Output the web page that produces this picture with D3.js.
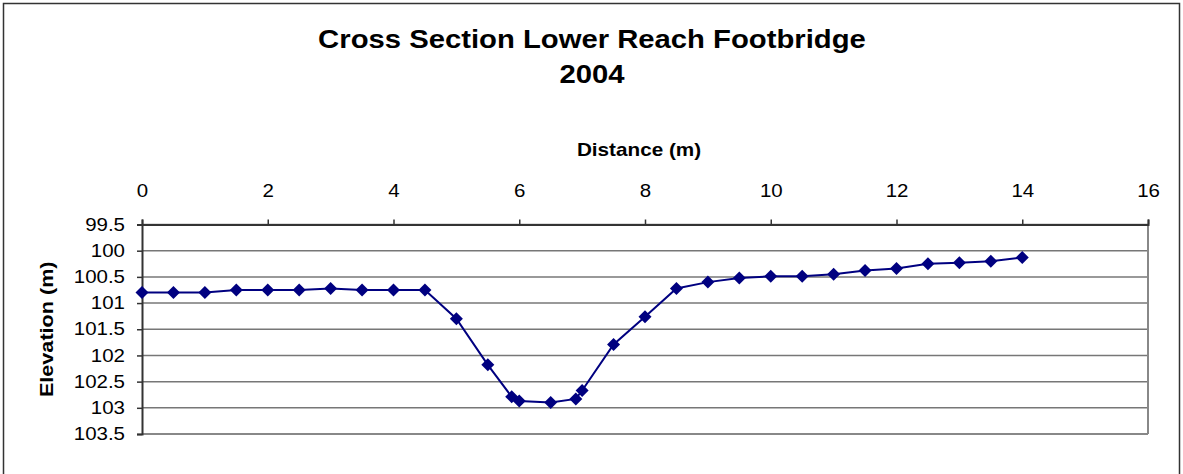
<!DOCTYPE html>
<meta charset="utf-8">
<style>
  body { margin: 0; background: #fff; }
  text { font-family: Arial, "Liberation Sans", sans-serif; }
</style>

<!-- Load d3.js -->
<script src="https://d3js.org/d3.v7.min.js"></script>

<div id="chart"></div>

<script>
    // survey data: distance along the section (m) and elevation (m)
    const distance = [0, 0.5, 1, 1.5, 2, 2.5, 3, 3.5, 4, 4.5, 5, 5.5, 5.88, 6, 6.5, 6.9, 7, 7.5, 8, 8.5, 9, 9.5, 10, 10.5, 11, 11.5, 12, 12.5, 13, 13.5, 14];
    const elevation = [100.8, 100.8, 100.8, 100.75, 100.75, 100.75, 100.72, 100.75, 100.75, 100.75, 101.3, 102.18, 102.79, 102.87, 102.9, 102.83, 102.67, 101.79, 101.26, 100.72, 100.6, 100.52, 100.49, 100.49, 100.45, 100.38, 100.34, 100.25, 100.23, 100.2, 100.13];
    const xTicks = [0, 2, 4, 6, 8, 10, 12, 14, 16];
    const yTicks = [99.5, 100, 100.5, 101, 101.5, 102, 102.5, 103, 103.5];

    const width = 1183, height = 474;
    const margin = {top: 224.5, left: 142};
    const plotW = 1148 - margin.left, plotH = 434 - margin.top;

    // the original picture is a bit wider than its fonts: stretch text along its run
    const stretch = function(sel, k) {
        sel.each(function() {
            const len = this.getComputedTextLength();
            d3.select(this)
                .attr("textLength", len * k)
                .attr("lengthAdjust", "spacingAndGlyphs");
        });
    };

    const svg = d3.select("#chart")
        .append("svg")
            .attr("width", width)
            .attr("height", height);

    // outer chart border
    svg.append("rect")
        .attr("x", 3.5).attr("y", 3.5)
        .attr("width", 1176).attr("height", 480)
        .attr("fill", "none")
        .attr("stroke", "#333")
        .attr("stroke-width", 1.5);

    // title
    svg.append("text")
        .attr("x", 592).attr("y", 48)
        .attr("text-anchor", "middle")
        .style("font-size", "25px").style("font-weight", "bold")
        .text("Cross Section Lower Reach Footbridge")
        .call(stretch, 1.17);
    svg.append("text")
        .attr("x", 592).attr("y", 83)
        .attr("text-anchor", "middle")
        .style("font-size", "25px").style("font-weight", "bold")
        .text("2004")
        .call(stretch, 1.17);

    const g = svg.append("g")
        .attr("transform", "translate(" + margin.left + "," + margin.top + ")");

    // scales
    const x = d3.scaleLinear().domain([0, 16]).range([0, plotW]);
    const y = d3.scaleLinear().domain([99.5, 103.5]).range([0, plotH]);

    // gridlines
    g.append("g")
        .selectAll("line")
        .data(yTicks)
        .enter()
        .append("line")
            .attr("x1", 0).attr("x2", plotW)
            .attr("y1", d => y(d)).attr("y2", d => y(d))
            .attr("stroke", "#777")
            .attr("stroke-width", 1.5);

    // right and bottom plot edges
    g.append("line")
        .attr("x1", plotW).attr("x2", plotW).attr("y1", 0).attr("y2", plotH)
        .attr("stroke", "#888").attr("stroke-width", 2);
    g.append("line")
        .attr("x1", 0).attr("x2", plotW).attr("y1", plotH).attr("y2", plotH)
        .attr("stroke", "#888").attr("stroke-width", 2);

    // top x axis
    const xAxis = g.append("g")
        .call(d3.axisTop(x).tickValues(xTicks).tickSize(5).tickPadding(23).tickFormat(d3.format("d")));
    xAxis.select(".domain").attr("stroke", "#333").attr("stroke-width", 2);
    xAxis.selectAll(".tick line").attr("stroke", "#333").attr("stroke-width", 1.5);
    xAxis.selectAll("text")
        .style("font-size", "17.5px").style("font-family", "Arial, 'Liberation Sans', sans-serif")
        .attr("fill", "#000")
        .call(stretch, 1.17);

    // left y axis
    const yAxis = g.append("g")
        .call(d3.axisLeft(y).tickValues(yTicks).tickSize(5).tickPadding(12).tickFormat(d => d));
    yAxis.select(".domain").attr("stroke", "#333").attr("stroke-width", 2);
    yAxis.selectAll(".tick line").attr("stroke", "#333").attr("stroke-width", 1.5);
    yAxis.selectAll("text")
        .style("font-size", "17.5px").style("font-family", "Arial, 'Liberation Sans', sans-serif")
        .attr("fill", "#000")
        .call(stretch, 1.17);

    // axis titles
    svg.append("text")
        .attr("x", 639).attr("y", 156)
        .attr("text-anchor", "middle")
        .style("font-size", "17.7px").style("font-weight", "bold")
        .text("Distance (m)")
        .call(stretch, 1.17);
    svg.append("text")
        .attr("transform", "translate(53," + (margin.top + plotH / 2) + ") rotate(-90)")
        .attr("text-anchor", "middle")
        .style("font-size", "18px").style("font-weight", "bold")
        .text("Elevation (m)")
        .call(stretch, 1.2);

    // line
    const pts = distance.map((d, i) => [d, elevation[i]]);
    g.append("path")
        .datum(pts)
        .attr("fill", "none")
        .attr("stroke", "#000080")
        .attr("stroke-width", 2)
        .attr("d", d3.line().x(d => x(d[0])).y(d => y(d[1])));

    // diamond markers
    g.append("g")
        .selectAll("path")
        .data(pts)
        .enter()
        .append("path")
            .attr("transform", d => "translate(" + x(d[0]) + "," + y(d[1]) + ")")
            .attr("d", "M0,-6.5L6.5,0L0,6.5L-6.5,0Z")
            .attr("fill", "#000080");
</script>
